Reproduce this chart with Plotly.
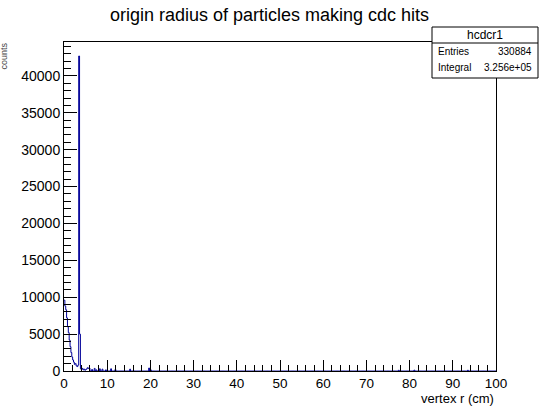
import plotly.graph_objects as go

# ---- data ----
bin_width = 0.2          # cm
n_bins = 500             # 0 .. 100 cm
# counts for the first bins (0 .. 6 cm)
near_counts = [9600, 8800, 8300, 7200, 6000, 5200, 4200, 3300, 2500, 1900,
               1500, 1200, 900, 1000, 700, 600, 800, 42700, 5000, 300,
               200, 350, 150, 250, 100, 200, 300, 450, 350, 400]
# sparse tail (bin left edge in cm, counts)
tail_r = [6.4, 7.0, 7.4, 8.2, 8.8, 9.6, 10.8, 11.8, 15.2, 19.6, 20.0, 77.4, 81.0, 93.4]
tail_counts = [200, 350, 150, 300, 250, 150, 300, 200, 250, 400, 150, 100, 120, 100]

x_ticks = [0, 10, 20, 30, 40, 50, 60, 70, 80, 90, 100]
y_ticks = [0, 5000, 10000, 15000, 20000, 25000, 30000, 35000, 40000]

title = "origin radius of particles making cdc hits"
hist_name = "hcdcr1"
entries = "330884"
integral = "3.256e+05"

# ---- build histogram ----
counts = [0] * n_bins
for i, c in enumerate(near_counts):
    counts[i] = c
for r, c in zip(tail_r, tail_counts):
    counts[int(round(r / bin_width))] = c
edges = [i * bin_width for i in range(n_bins + 1)]
xs = edges
ys = counts + [counts[-1]]

FONT = "Liberation Sans, Arial, Helvetica, sans-serif"
fig = go.Figure()
fig.add_trace(go.Scatter(x=xs, y=ys, mode="lines", line=dict(color="#000099", width=1, shape="hv"),
                         hoverinfo="skip", showlegend=False))

W, H = 539, 409
L, R, T, B = 64, 43, 42, 38
pw, ph = W - L - R, H - T - B

def px(xp):
    return (xp - L) / pw

def py(yp):
    return (H - B - yp) / ph

fig.update_layout(
    width=W, height=H,
    margin=dict(l=L, r=R, t=T, b=B, autoexpand=False),
    paper_bgcolor="white", plot_bgcolor="white",
    font=dict(family=FONT, color="black"),
    title=dict(text=title, x=0.5, xanchor="center", y=1 - 15 / H, yanchor="middle",
               yref="container", font=dict(size=18, family=FONT)),
    showlegend=False,
)
fig.update_xaxes(
    range=[0, 100], tickvals=x_ticks, ticktext=[str(v) for v in x_ticks],
    ticks="inside", ticklen=11, tickwidth=1, tickcolor="black",
    minor=dict(ticks="inside", dtick=2, ticklen=6, tickcolor="black", tickwidth=1),
    showline=True, linecolor="black", linewidth=1, mirror=True,
    showgrid=False, zeroline=False, tickfont=dict(size=13.5, family=FONT),
    ticklabelstandoff=0,
)
fig.update_yaxes(
    range=[0, 44600], tickvals=y_ticks, ticktext=[str(v) for v in y_ticks],
    ticks="inside", ticklen=13, tickwidth=1, tickcolor="black",
    minor=dict(ticks="inside", dtick=1000, ticklen=7, tickcolor="black", tickwidth=1),
    showline=True, linecolor="black", linewidth=1, mirror=True,
    showgrid=False, zeroline=False, tickfont=dict(size=14, family=FONT),
)

# x axis title
fig.add_annotation(text="vertex r (cm)", xref="paper", yref="paper", x=1, y=py(398),
                   xanchor="right", yanchor="middle", showarrow=False,
                   font=dict(size=13, family=FONT))
# y axis title (partly clipped at the left edge)
fig.add_annotation(text="counts", xref="paper", yref="paper", x=px(4), y=py(41),
                   xanchor="center", yanchor="top", textangle=-90, showarrow=False,
                   font=dict(size=9, family=FONT, color="#444444"))

# stats box
bx0, bx1, by0, by1, bdiv = 432, 538, 27, 78, 43
fig.add_shape(type="rect", xref="paper", yref="paper", x0=px(bx0), x1=px(bx1), y0=py(by1), y1=py(by0),
              line=dict(color="black", width=1), fillcolor="white", layer="above")
fig.add_shape(type="line", xref="paper", yref="paper", x0=px(bx0), x1=px(bx1), y0=py(bdiv), y1=py(bdiv),
              line=dict(color="black", width=1), layer="above")
fig.add_annotation(text=hist_name, xref="paper", yref="paper", x=px((bx0 + bx1) / 2), y=py(35),
                   xanchor="center", yanchor="middle", showarrow=False, font=dict(size=12, family=FONT))
fig.add_annotation(text="Entries", xref="paper", yref="paper", x=px(436), y=py(52),
                   xanchor="left", yanchor="middle", showarrow=False, font=dict(size=10, family=FONT))
fig.add_annotation(text=entries, xref="paper", yref="paper", x=px(534), y=py(52),
                   xanchor="right", yanchor="middle", showarrow=False, font=dict(size=10, family=FONT))
fig.add_annotation(text="Integral", xref="paper", yref="paper", x=px(436), y=py(68),
                   xanchor="left", yanchor="middle", showarrow=False, font=dict(size=10, family=FONT))
fig.add_annotation(text=integral, xref="paper", yref="paper", x=px(534), y=py(68),
                   xanchor="right", yanchor="middle", showarrow=False, font=dict(size=10, family=FONT))

fig.write_html("out.html", config={"displayModeBar": False},
               post_script="document.body.style.margin='0';document.body.style.overflow='hidden';")
